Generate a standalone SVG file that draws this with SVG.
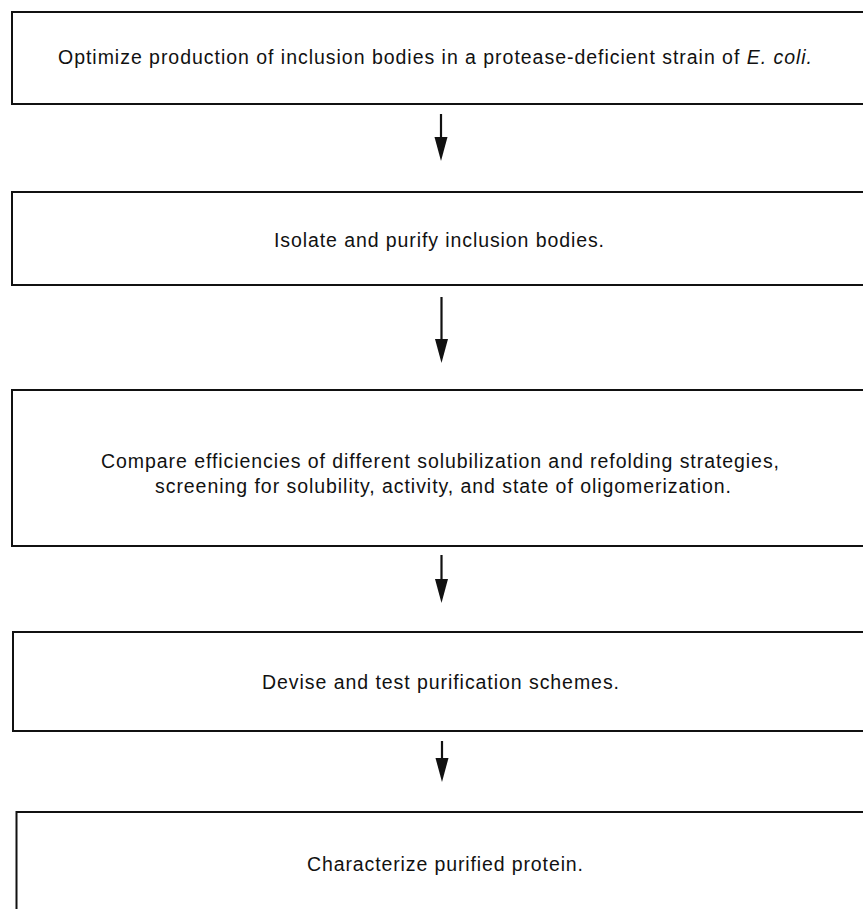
<svg xmlns="http://www.w3.org/2000/svg" width="863" height="909" viewBox="0 0 863 909">
  <defs>
    <style>
      .box { fill: #ffffff; stroke: #111111; stroke-width: 2; }
      .lbl { font-family: "Liberation Sans", Arial, Helvetica, sans-serif; font-size: 19.5px; fill: #111111; }
      .conn { stroke: #111111; stroke-width: 2.2; fill: none; }
    </style>
    <marker id="ah" markerUnits="userSpaceOnUse" markerWidth="26" markerHeight="14" refX="0" refY="7" orient="auto" viewBox="0 0 26 14">
      <path d="M0,0.5 L24,7 L0,13.5 Z" fill="#111111"/>
    </marker>
  </defs>
  <rect width="863" height="909" fill="#ffffff"/>

  <g id="node1">
    <rect class="box" x="12" y="12" width="862" height="92"/>
    <text class="lbl" x="58" y="64" textLength="754" lengthAdjust="spacing">Optimize production of inclusion bodies in a protease-deficient strain of <tspan font-style="italic">E. coli.</tspan></text>
  </g>

  <g id="node2">
    <rect class="box" x="12" y="192" width="862" height="93"/>
    <text class="lbl" x="274" y="247" textLength="330" lengthAdjust="spacing">Isolate and purify inclusion bodies.</text>
  </g>

  <g id="node3">
    <rect class="box" x="12" y="390" width="862" height="156"/>
    <text class="lbl" x="101" y="468" textLength="678" lengthAdjust="spacing">Compare efficiencies of different solubilization and refolding strategies,</text>
    <text class="lbl" x="155" y="493" textLength="576" lengthAdjust="spacing">screening for solubility, activity, and state of oligomerization.</text>
  </g>

  <g id="node4">
    <rect class="box" x="13" y="632" width="862" height="99"/>
    <text class="lbl" x="262" y="689" textLength="357" lengthAdjust="spacing">Devise and test purification schemes.</text>
  </g>

  <g id="node5">
    <rect class="box" x="16.5" y="812" width="862" height="130"/>
    <text class="lbl" x="307" y="871" textLength="276" lengthAdjust="spacing">Characterize purified protein.</text>
  </g>

  <g id="connectors">
    <line class="conn" x1="441" y1="114" x2="441" y2="137" marker-end="url(#ah)"/>
    <line class="conn" x1="441.5" y1="297" x2="441.5" y2="339" marker-end="url(#ah)"/>
    <line class="conn" x1="441.5" y1="555" x2="441.5" y2="579" marker-end="url(#ah)"/>
    <line class="conn" x1="442" y1="741" x2="442" y2="758" marker-end="url(#ah)"/>
  </g>
</svg>
